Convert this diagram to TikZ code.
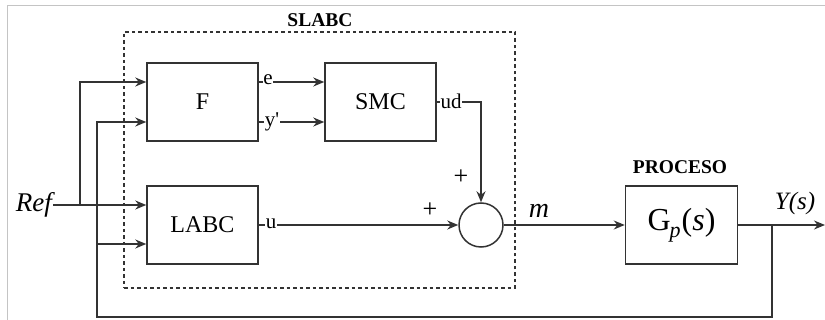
\documentclass[tikz,border=0pt]{standalone}
\usepackage{fontspec}
\setmainfont{Liberation Serif}
\usetikzlibrary{arrows.meta}
\definecolor{ln}{HTML}{333333}
\definecolor{fr}{HTML}{C4C4C4}
\tikzset{
  blk/.style={draw=ln, line width=1.5pt, minimum width=111pt, minimum height=78pt, inner sep=0pt, font=\fontsize{24}{24}\selectfont},
  wire/.style={draw=ln, line width=1.5pt},
  arr/.style={wire, -{Stealth[length=11pt,width=9pt]}},
  sig/.style={fill=white, inner sep=0.5pt, font=\fontsize{21}{21}\selectfont},
  ttl/.style={font=\bfseries\fontsize{19.5}{19.5}\selectfont, inner sep=0pt},
  plus/.style={font=\fontsize{26}{26}\selectfont, inner sep=0pt},
}
\begin{document}
\begin{tikzpicture}[x=1pt, y=-1pt]
\useasboundingbox (0,0) rectangle (825,320);
% frame
\draw[fr, line width=1pt] (7,320) -- (7,6) -- (825,6);
% dashed box
\node[draw=ln, dashed, dash pattern=on 3.5pt off 3pt, line width=1.3pt, minimum width=391pt, minimum height=256pt, inner sep=0pt] (slabc) at (319.5,160) {};
\node[ttl] (slabct) at (320,20) {SLABC};
% blocks
\node[blk] (F) at (202.5,102) {F};
\node[blk] (SMC) at (380.5,102) {SMC};
\node[blk] (LABC) at (202.5,225) {LABC};
\node[blk, minimum width=112pt] (GP) at (681.5,225) {\fontsize{32}{32}\selectfont G\kern-1pt\raisebox{-7pt}{\fontsize{22}{22}\selectfont\itshape p}\kern1pt(\textit{s})};
\node[ttl] (proc) at (680,167) {PROCESO};
\node[draw=ln, line width=1.5pt, circle, minimum size=44pt, inner sep=0pt] (sum) at (481,225) {};
% reference
\node[font=\itshape\fontsize{27}{27}\selectfont, anchor=base east, inner sep=0pt] (ref) at (52,212) {Ref};
\coordinate (refo) at (53,205);
\coordinate (b1) at (80,205);
\coordinate (b1t) at (80,82);
\draw[arr] (refo) -- (LABC.west |- refo);
\draw[arr] (b1) -- (b1t) -- (F.west |- b1t);
% feedback
\coordinate (fb) at (772,225);
\coordinate (fbr) at (772,317);
\coordinate (fbl) at (97,317);
\coordinate (fbt) at (97,122);
\coordinate (fbm) at (97,244);
\draw[arr] (fb) -- (fbr) -- (fbl) -- (fbt) -- (F.west |- fbt);
\draw[arr] (fbm) -- (LABC.west |- fbm);
% F -> SMC
\coordinate (eo) at (258,82);
\coordinate (yo) at (258,122);
\draw[arr] (eo) -- (SMC.west |- eo);
\draw[arr] (yo) -- (SMC.west |- yo);
\node[sig] (el) at (268,80) {e};
\node[sig] (yl) at (272,122) {y\textquotesingle};
% SMC -> sum
\coordinate (udo) at (436,102);
\coordinate (udc) at (481,102);
\draw[arr] (udo) -- (udc) -- (sum.north);
\node[sig] (udlab) at (451,101) {ud};
% LABC -> sum
\coordinate (uo) at (258,225);
\draw[arr] (uo) -- (sum.west);
\node[sig] (ul) at (271,224) {u};
\node[plus] (p1) at (461,177) {+};
\node[plus] (p2) at (430,210) {+};
% sum -> GP
\draw[arr] (sum.east) -- (GP.west);
\node[font=\itshape\fontsize{28}{28}\selectfont, inner sep=0pt] (m) at (539,211) {m};
% output
\coordinate (yout) at (825,225);
\draw[arr] (GP.east) -- (yout);
\node[font=\itshape\fontsize{25}{25}\selectfont, inner sep=0pt] (ys) at (795,203) {Y(s)};
\end{tikzpicture}
\end{document}
